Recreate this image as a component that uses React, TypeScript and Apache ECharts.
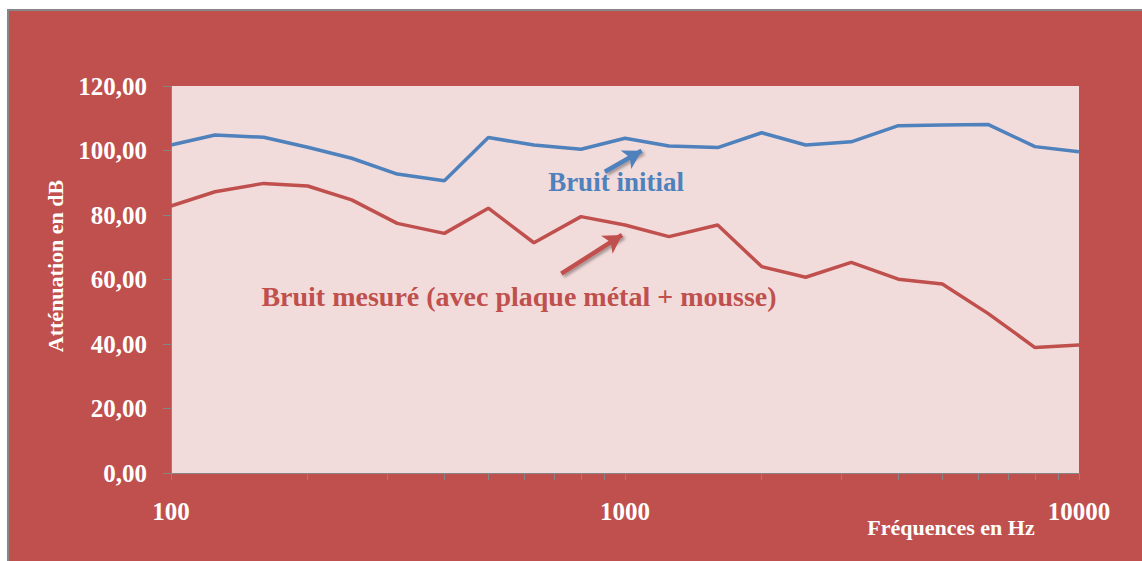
import React, { useEffect, useRef } from "react";
import * as echarts from "echarts";

const frequencies = [100, 125, 160, 200, 250, 315, 400, 500, 630, 800, 1000, 1250, 1600, 2000, 2500, 3150, 4000, 5000, 6300, 8000, 10000];
const bruitInitial = [101.7, 104.8, 104.1, 101.0, 97.6, 92.7, 90.6, 104.0, 101.7, 100.4, 103.8, 101.4, 100.9, 105.5, 101.7, 102.7, 107.7, 107.9, 108.1, 101.2, 99.6];
const bruitMesure = [82.8, 87.2, 89.8, 89.0, 84.7, 77.4, 74.3, 82.1, 71.4, 79.5, 76.9, 73.3, 76.9, 64.0, 60.7, 65.3, 60.1, 58.6, 49.5, 38.9, 39.7];
const yTicks = [0, 20, 40, 60, 80, 100, 120];
const xTickLabels = [100, 1000, 10000];
// annotation arrows: [tail, head] in data coordinates
const arrowInitial = [[903, 93.4], [1088, 99.9]];
const arrowMesure = [[724, 61.8], [985, 73.8]];

const BLUE = "#4F81BD";
const RED = "#C0504D";
const FONT = "'Liberation Serif', 'Times New Roman', serif";

export default function App() {
  const ref = useRef<HTMLDivElement>(null);
  useEffect(() => {
    if (!ref.current) return;
    const chart = echarts.init(ref.current, null, { renderer: "svg" });
    const shadow = {
      shadowBlur: 3,
      shadowColor: "rgba(0,0,0,0.35)",
      shadowOffsetX: 2,
      shadowOffsetY: 2,
    };
    const arrow = (pts: number[][], color: string) => ({
      silent: true,
      symbol: ["none", "arrow"],
      symbolSize: [16, 18],
      label: { show: false },
      lineStyle: { color, width: 4.5, type: "solid", ...shadow },
      data: [[{ coord: pts[0] }, { coord: pts[1] }]],
    });
    chart.setOption({
      animation: false,
      backgroundColor: "transparent",
      grid: {
        left: 171,
        right: 63,
        top: 86,
        bottom: 88,
        show: true,
        backgroundColor: "#F2DCDB",
        borderWidth: 0,
      },
      xAxis: {
        type: "log",
        logBase: 10,
        min: 100,
        max: 10000,
        axisLine: { show: true, lineStyle: { color: "#868686", width: 1 } },
        axisTick: { show: true, inside: false, length: 7, lineStyle: { color: "#868686" } },
        minorTick: { show: true, splitNumber: 9, length: 7, lineStyle: { color: "#868686" } },
        splitLine: { show: false },
        axisLabel: {
          color: "#FFFFFF",
          fontFamily: FONT,
          fontWeight: "bold",
          fontSize: 25,
          margin: 26,
          formatter: (v: number) => (xTickLabels.includes(Math.round(v)) ? String(Math.round(v)) : ""),
        },
      },
      yAxis: {
        type: "value",
        min: yTicks[0],
        max: yTicks[yTicks.length - 1],
        interval: 20,
        axisLine: { show: true, lineStyle: { color: "#868686", width: 1 } },
        axisTick: { show: true, length: 8, lineStyle: { color: "#868686" } },
        splitLine: { show: false },
        axisLabel: {
          color: "#FFFFFF",
          fontFamily: FONT,
          fontWeight: "bold",
          fontSize: 25,
          margin: 24,
          formatter: (v: number) => v.toFixed(2).replace(".", ","),
        },
      },
      graphic: [
        {
          type: "text",
          x: 55,
          y: 266,
          rotation: Math.PI / 2,
          style: {
            text: "Atténuation en dB",
            fill: "#FFFFFF",
            font: `bold 22px ${FONT}`,
            textAlign: "center",
            textVerticalAlign: "middle",
          },
        },
        {
          type: "text",
          x: 951,
          y: 527,
          style: {
            text: "Fréquences en Hz",
            fill: "#FFFFFF",
            font: `bold 22px ${FONT}`,
            textAlign: "center",
            textVerticalAlign: "middle",
          },
        },
        {
          type: "text",
          x: 616,
          y: 182,
          z: 10,
          style: {
            text: "Bruit initial",
            fill: BLUE,
            font: `bold 27px ${FONT}`,
            textAlign: "center",
            textVerticalAlign: "middle",
          },
        },
        {
          type: "text",
          x: 519,
          y: 296,
          z: 10,
          style: {
            text: "Bruit mesuré (avec plaque métal + mousse)",
            fill: RED,
            font: `bold 28px ${FONT}`,
            textAlign: "center",
            textVerticalAlign: "middle",
          },
        },
      ],
      series: [
        {
          name: "Bruit initial",
          type: "line",
          data: frequencies.map((f, i) => [f, bruitInitial[i]]),
          symbol: "none",
          lineStyle: { color: BLUE, width: 3.5 },
          itemStyle: { color: BLUE },
          markLine: arrow(arrowInitial, BLUE),
        },
        {
          name: "Bruit mesuré (avec plaque métal + mousse)",
          type: "line",
          data: frequencies.map((f, i) => [f, bruitMesure[i]]),
          symbol: "none",
          lineStyle: { color: RED, width: 3.5 },
          itemStyle: { color: RED },
          markLine: arrow(arrowMesure, RED),
        },
      ],
    });
    return () => chart.dispose();
  }, []);

  return (
    <div style={{ position: "fixed", left: 0, top: 0, width: 1142, height: 561, background: "#FFFFFF", overflow: "hidden" }}>
      <div
        style={{
          position: "absolute",
          left: 7,
          top: 9,
          width: 1142 - 7,
          height: 561 - 9,
          background: RED,
          borderLeft: "2px solid #878787",
          borderTop: "2px solid #878787",
        }}
      />
      <div ref={ref} style={{ position: "absolute", left: 0, top: 0, width: 1142, height: 561 }} />
    </div>
  );
}
